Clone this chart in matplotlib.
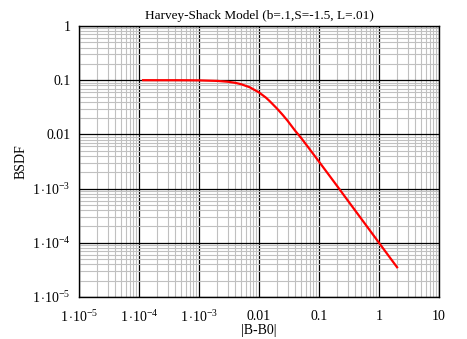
import math
import matplotlib
matplotlib.use("Agg")
import matplotlib.pyplot as plt
from matplotlib.ticker import FixedLocator, LogLocator, FuncFormatter, NullFormatter

plt.rcParams["font.family"] = ["Liberation Serif", "DejaVu Serif"]
plt.rcParams["mathtext.fontset"] = "custom"
plt.rcParams["mathtext.rm"] = "Liberation Serif"
plt.rcParams["mathtext.it"] = "Liberation Serif:italic"

# Scatter angle offset |B-B0| and measured BSDF values
b_offset = [1.17e-4, 2e-4, 4e-4, 7e-4, 1e-3, 2e-3, 3e-3, 4e-3, 5e-3, 7e-3,
            0.01, 0.013, 0.015, 0.02, 0.025, 0.03, 0.04, 0.05, 0.07,
            0.1, 0.15, 0.2, 0.3, 0.5, 0.7, 1.0, 1.5, 2.0]
bsdf = [0.1, 0.0999, 0.0999, 0.0996, 0.0993, 0.0971, 0.0937, 0.0895, 0.0846, 0.0741,
        0.0595, 0.0478, 0.0413, 0.0299, 0.0227, 0.0178, 0.0117, 0.00869, 0.00532,
        0.00314, 0.00172, 0.00112, 0.000608, 0.000283, 0.000171, 0.0001, 5.44e-05, 3.54e-05]

x_ticks = [1e-5, 1e-4, 1e-3, 0.01, 0.1, 1, 10]
y_ticks = [1e-5, 1e-4, 1e-3, 0.01, 0.1, 1]
plain_labels = {0.01: "0.01", 0.1: "0.1", 1.0: "1", 10.0: "10"}


def tick_text(v, pos=None):
    key = round(v, 5)
    if key in plain_labels:
        return plain_labels[key]
    exp = int(round(math.log10(v)))
    return r"$\mathrm{1\,{\cdot}10^{%d}}$" % exp


fig = plt.figure(figsize=(4.67, 3.39), dpi=100)
ax = fig.add_axes([79 / 467, 1 - 297 / 339, 360 / 467, 271 / 339])
ax.set_xscale("log")
ax.set_yscale("log")
ax.set_xlim(1e-5, 10)
ax.set_ylim(1e-5, 1)

ax.xaxis.set_major_locator(FixedLocator(x_ticks))
ax.yaxis.set_major_locator(FixedLocator(y_ticks))
ax.xaxis.set_minor_locator(LogLocator(base=10, subs=range(2, 10), numticks=20))
ax.yaxis.set_minor_locator(LogLocator(base=10, subs=range(2, 10), numticks=20))
ax.xaxis.set_major_formatter(FuncFormatter(tick_text))
ax.yaxis.set_major_formatter(FuncFormatter(tick_text))
ax.xaxis.set_minor_formatter(NullFormatter())
ax.yaxis.set_minor_formatter(NullFormatter())

ax.grid(which="minor", color="#c0c0c0", linewidth=0.8)
ax.grid(which="major", color="black", linewidth=0.9)
ax.set_axisbelow(True)
ax.tick_params(which="both", length=0, labelsize=10)
ax.tick_params(axis="x", pad=9)
ax.tick_params(axis="y", pad=6)
for s in ax.spines.values():
    s.set_linewidth(1.0)
    s.set_color("black")

ax.plot(b_offset, bsdf, color="#ff0000", linewidth=1.6)

ax.set_title("Harvey-Shack Model (b=.1,S=-1.5, L=.01)", fontsize=9.5, pad=5)
ax.set_xlabel("|B-B0|", fontsize=10, labelpad=-1)
ax.set_ylabel("BSDF", fontsize=10)
ax.yaxis.set_label_coords(-0.142, 0.5)

fig.savefig("out.png", dpi=100)
